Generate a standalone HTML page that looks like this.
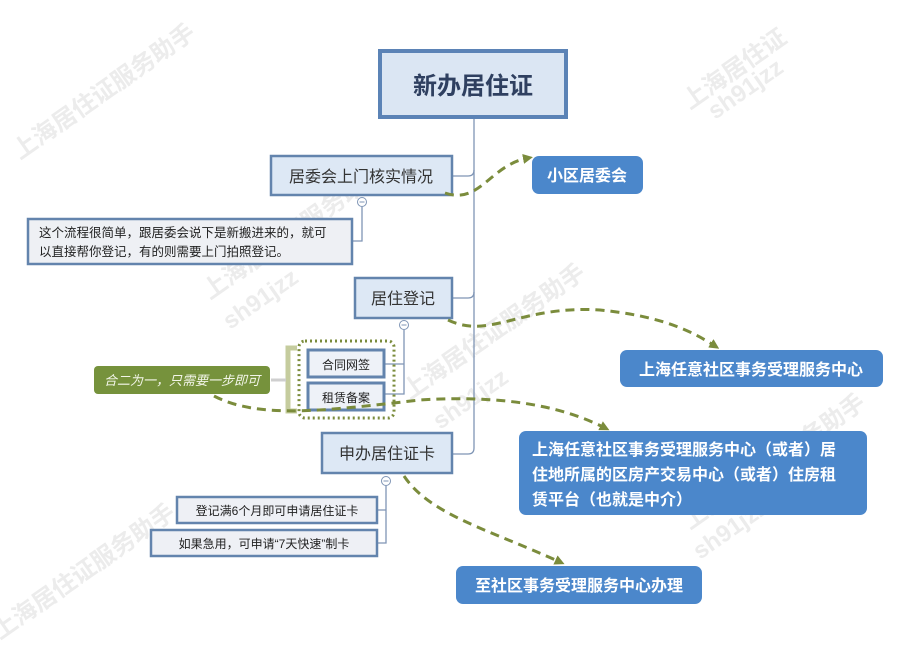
<!DOCTYPE html>
<html><head><meta charset="utf-8"><style>
html,body{margin:0;padding:0;background:#fff;}
svg{display:block;font-family:"Liberation Sans","Noto Sans CJK SC",sans-serif;}
</style></head><body>
<svg width="903" height="646" viewBox="0 0 903 646" xmlns="http://www.w3.org/2000/svg">
<defs>
<marker id="ar" markerWidth="10" markerHeight="10" refX="5" refY="5" orient="auto" markerUnits="userSpaceOnUse"><path d="M0,0 L10,5 L0,10 z" fill="#7b8c3c"/></marker>
</defs>
<g fill="#ececec" font-weight="bold" font-size="24">
<text transform="translate(20,160) rotate(-35)">上海居住证服务助手</text>
<text transform="translate(690,110) rotate(-35)">上海居住证</text>
<text transform="translate(715,120) rotate(-35)">sh91jzz</text>
<text transform="translate(210,300) rotate(-35)">上海居住证服务助手</text>
<text transform="translate(230,330) rotate(-35)">sh91jzz</text>
<text transform="translate(410,400) rotate(-35)">上海居住证服务助手</text>
<text transform="translate(440,430) rotate(-35)">sh91jzz</text>
<text transform="translate(690,530) rotate(-35)">上海居住证服务助手</text>
<text transform="translate(700,560) rotate(-35)">sh91jzz</text>
<text transform="translate(0,640) rotate(-35)">上海居住证服务助手</text>
</g>
<g stroke="#7f95b5" stroke-width="1.3" fill="none">
<path d="M474,119 V448 q0,6 -6,6 H452"/>
<path d="M474,170 q0,6 -6,6 H452"/>
<path d="M474,292 q0,6 -6,6 H452"/>
<path d="M362,207 V241 H352"/>
<path d="M404,330 V394 H384 M404,364 H384"/>
<path d="M386,486 V543 H377 M386,510 H377"/>
</g>
<g fill="#fff" stroke="#7f95b5" stroke-width="1">
<circle cx="362" cy="202" r="4.5"/><circle cx="404" cy="325" r="4.5"/><circle cx="386" cy="481" r="4.5"/>
</g>
<g stroke="#7f95b5" stroke-width="1"><path d="M359.5,202h5M401.5,325h5M383.5,481h5"/></g>
<rect x="380" y="51" width="186" height="66" fill="#dbe6f3" stroke="#5b83b6" stroke-width="4"/>
<text x="473" y="94" text-anchor="middle" font-size="24" font-weight="bold" fill="#2f4060">新办居住证</text>
<g fill="#dde8f5" stroke="#6384ad" stroke-width="2.5">
<rect x="271" y="156" width="181" height="39"/>
<rect x="355" y="278" width="97" height="40"/>
<rect x="322" y="433" width="130" height="40"/>
<rect x="28" y="219" width="324" height="45" fill="#eef0f4"/>
<rect x="308" y="350" width="76" height="27" fill="#eef2f8" stroke-width="3"/>
<rect x="308" y="383" width="76" height="27" fill="#eef2f8" stroke-width="3"/>
<rect x="177" y="497" width="200" height="26" fill="#eef0f5"/>
<rect x="151" y="530" width="226" height="26" fill="#eef0f5"/>
</g>
<g fill="#333" font-size="16">
<text x="361" y="182" text-anchor="middle">居委会上门核实情况</text>
<text x="403" y="304" text-anchor="middle">居住登记</text>
<text x="387" y="459" text-anchor="middle">申办居住证卡</text>
</g>
<g fill="#222" font-size="12.5">
<text x="39" y="237">这个流程很简单，跟居委会说下是新搬进来的，就可</text>
<text x="39" y="256">以直接帮你登记，有的则需要上门拍照登记。</text>
</g>
<g fill="#222" font-size="12">
<text x="346" y="369" text-anchor="middle">合同网签</text>
<text x="346" y="402" text-anchor="middle">租赁备案</text>
<text x="277" y="515" text-anchor="middle">登记满6个月即可申请居住证卡</text>
<text x="264" y="548" text-anchor="middle">如果急用，可申请“7天快速”制卡</text>
</g>
<rect x="299" y="341" width="95" height="77" rx="6" fill="none" stroke="#7b8c3c" stroke-width="3" stroke-dasharray="2,3"/>
<path d="M297,348 H288 V411 H297" fill="none" stroke="#c5cc9e" stroke-width="5"/>
<path d="M271,380 H286" stroke="#cfcfcf" stroke-width="3"/>
<rect x="94" y="366" width="176" height="28" rx="4" fill="#76923c"/>
<text x="182" y="385" text-anchor="middle" font-size="13" font-style="italic" fill="#f2f5e8">合二为一，只需要一步即可</text>
<g fill="#4b87cb">
<rect x="532" y="156" width="111" height="38" rx="7"/>
<rect x="620" y="350" width="263" height="37" rx="7"/>
<rect x="519" y="431" width="348" height="84" rx="7"/>
<rect x="456" y="566" width="246" height="38" rx="7"/>
</g>
<g fill="#fff" font-size="16" font-weight="bold">
<text x="587" y="181" text-anchor="middle">小区居委会</text>
<text x="751" y="375" text-anchor="middle">上海任意社区事务受理服务中心</text>
<text x="532" y="455">上海任意社区事务受理服务中心（或者）居</text>
<text x="532" y="480">住地所属的区房产交易中心（或者）住房租</text>
<text x="532" y="505">赁平台（也就是中介）</text>
<text x="579" y="591" text-anchor="middle">至社区事务受理服务中心办理</text>
</g>
<g fill="none" stroke="#7b8c3c" stroke-width="3" stroke-dasharray="9,6">
<path d="M445,193 C480,205 490,165 528,158" marker-end="url(#ar)"/>
<path d="M448,320 C490,340 520,305 600,310 C660,316 690,330 715,346" marker-end="url(#ar)"/>
<path d="M214,396 C260,420 330,410 420,400 C500,395 560,405 605,428" marker-end="url(#ar)"/>
<path d="M404,476 C430,515 490,530 560,562" marker-end="url(#ar)"/>
</g>
</svg>
</body></html>
